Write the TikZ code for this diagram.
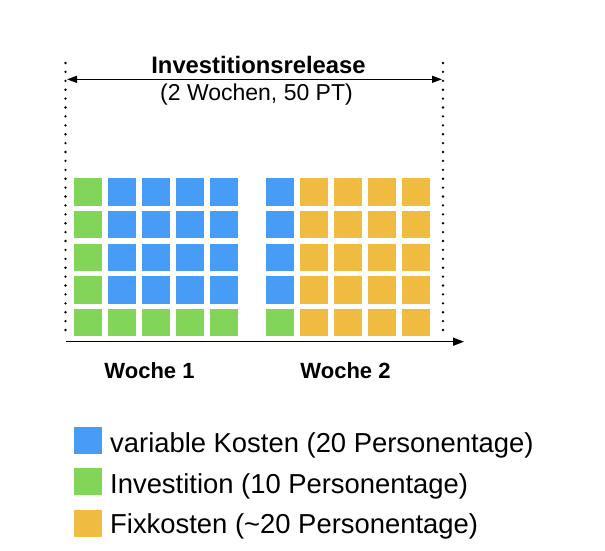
\documentclass[tikz,border=0pt]{standalone}
\usepackage{fontspec}
\setmainfont{Liberation Sans}
\usetikzlibrary{arrows.meta}
\definecolor{cblue}{HTML}{479DF6}
\definecolor{cgreen}{HTML}{83D55A}
\definecolor{cyellow}{HTML}{EFBC41}
\tikzset{
  sq/.style={draw=white, line width=0.4pt, inner sep=0pt, minimum width=28.7pt, minimum height=28.4pt, anchor=north west},
  dotline/.style={line width=2.6pt, line cap=round, dash pattern=on 0pt off 8.9pt},
  axisline/.style={line width=1.5pt, -{Triangle[length=11pt,width=8pt]}},
  spanline/.style={line width=1.3pt, {Triangle[length=10pt,width=7pt]}-{Triangle[length=10pt,width=7pt]}},
  boldlbl/.style={font=\bfseries\fontsize{22}{26}\selectfont, anchor=base, inner sep=0pt},
  legtxt/.style={font=\fontsize{27.4}{32}\selectfont, anchor=base west, inner sep=0pt},
}
\begin{document}
\begin{tikzpicture}[x=1pt,y=-1pt]
\useasboundingbox (0,0) rectangle (605,550);
% dotted boundaries
\coordinate (dl1) at (65.5,63);
\coordinate (dl2) at (65.5,337);
\coordinate (dr1) at (443,63);
\coordinate (dr2) at (443,337);
\draw[dotline] (dl1) -- (dl2);
\draw[dotline] (dr1) -- (dr2);
% span arrow
\coordinate (s1) at (67,79.3);
\coordinate (s2) at (442,79.3);
\draw[spanline] (s1) -- (s2);
\node[font=\bfseries\fontsize{23.8}{28}\selectfont, anchor=base, inner sep=0pt] (title) at (258.5,73) {Investitionsrelease};
\node[font=\fontsize{23}{27}\selectfont, anchor=base, inner sep=0pt] (sub) at (256.5,100.5) {(2 Wochen, 50 PT)};
% week 1
\foreach \i in {0,...,4}{
  \foreach \j in {0,...,4}{
    \pgfmathsetmacro{\xx}{73+34*\i}
    \pgfmathsetmacro{\yy}{177.3+32.6*\j}
    \ifnum\i=0 \def\cc{cgreen}\else\ifnum\j=4 \def\cc{cgreen}\else\def\cc{cblue}\fi\fi
    \node[sq, fill=\cc] (wa-\i-\j) at (\xx,\yy) {};
  }
}
% week 2
\foreach \i in {0,...,4}{
  \foreach \j in {0,...,4}{
    \pgfmathsetmacro{\xx}{265+34*\i}
    \pgfmathsetmacro{\yy}{177.3+32.6*\j}
    \ifnum\i=0 \ifnum\j=4 \def\cc{cgreen}\else\def\cc{cblue}\fi\else\def\cc{cyellow}\fi
    \node[sq, fill=\cc] (wb-\i-\j) at (\xx,\yy) {};
  }
}
% axis
\coordinate (a1) at (66,341.7);
\coordinate (a2) at (464,341.7);
\draw[axisline] (a1) -- (a2);
\node[boldlbl] (w1) at (149.5,378) {Woche 1};
\node[boldlbl] (w2) at (345.5,378) {Woche 2};
% legend
\node[sq, fill=cblue, minimum height=27.5pt] (lb) at (73,426) {};
\node[sq, fill=cgreen, minimum height=27.5pt] (lg) at (73,467.3) {};
\node[sq, fill=cyellow, minimum height=28pt] (ly) at (73,508.5) {};
\node[legtxt] (tb) at (110,452) {variable Kosten (20 Personentage)};
\node[legtxt] (tg) at (110,493) {Investition (10 Personentage)};
\node[legtxt] (ty) at (110,533) {Fixkosten (\char"007E 20 Personentage)};
\end{tikzpicture}
\end{document}
